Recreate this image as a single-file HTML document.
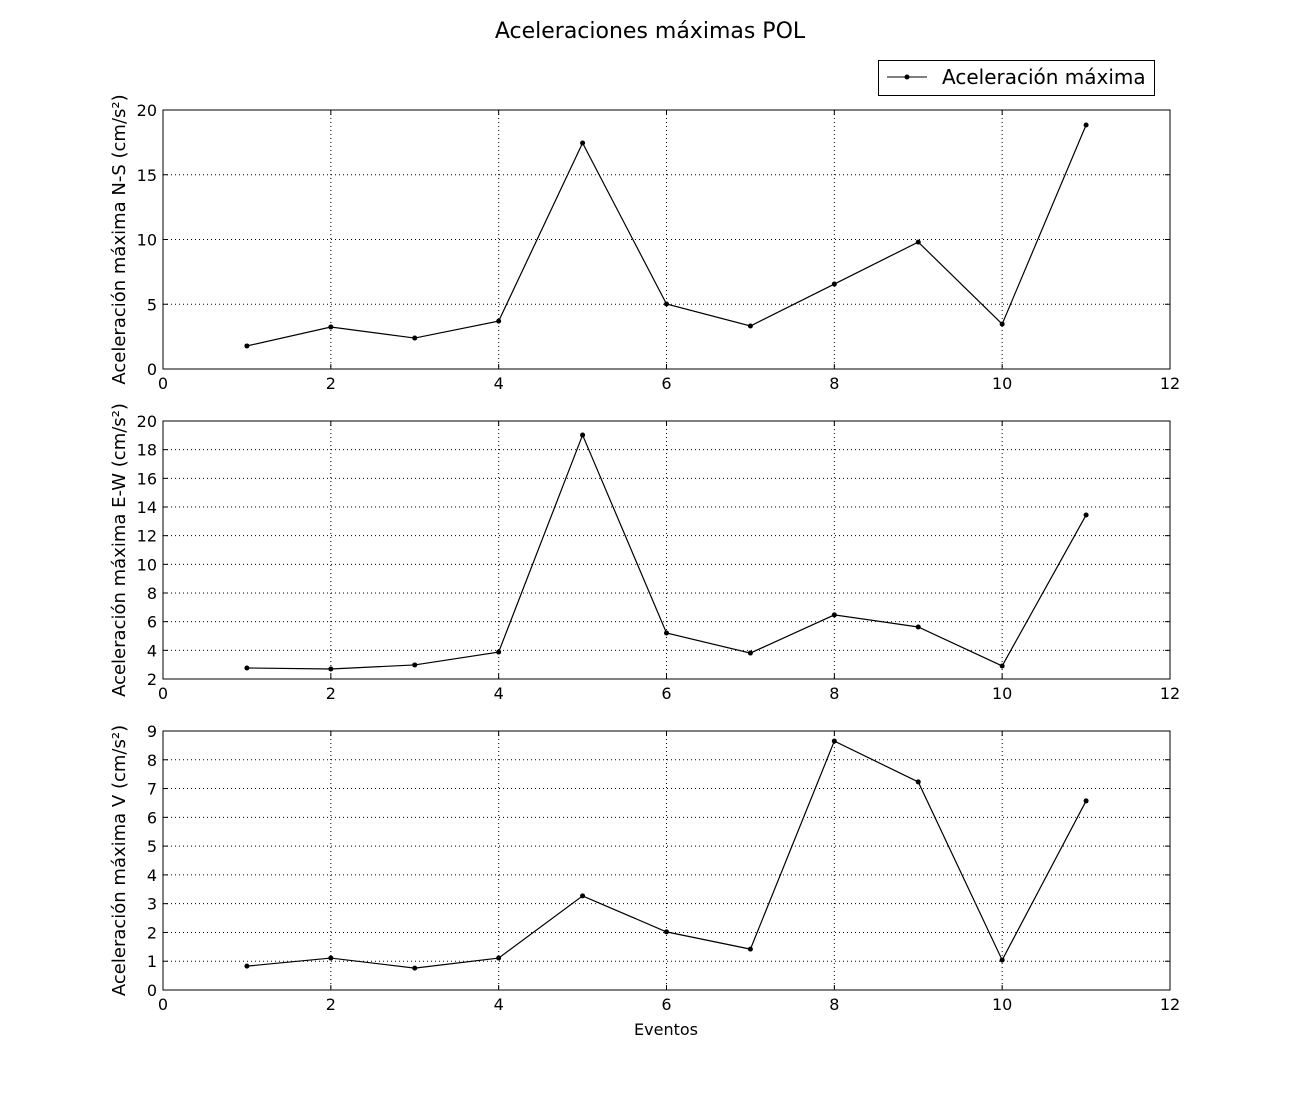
<!DOCTYPE html>
<html><head><meta charset="utf-8"><style>
body{margin:0;background:#fff;}
svg{display:block;font-family:"DejaVu Sans","Liberation Sans",sans-serif;}
</style></head><body>
<svg id="chart" width="1300" height="1100">
<text x="650" y="38" text-anchor="middle" font-size="22">Aceleraciones máximas POL</text>
<g>
<rect x="878.5" y="60.5" width="276" height="35" fill="#fff" stroke="#000"/>
<line x1="887" y1="77" x2="927" y2="77" stroke="#000"/>
<circle cx="907" cy="77" r="2.5" fill="#000"/>
<text x="942" y="84" font-size="20">Aceleración máxima</text>
</g>
<text x="666" y="1035" text-anchor="middle" font-size="16">Eventos</text>
</svg>
<script>
const events = [1,2,3,4,5,6,7,8,9,10,11];
const valuesNS = [1.78,3.24,2.39,3.7,17.45,5.02,3.32,6.56,9.8,3.47,18.84];
const valuesEW = [2.77,2.7,2.98,3.88,19.02,5.21,3.81,6.47,5.63,2.91,13.44];
const valuesV = [0.83,1.11,0.76,1.11,3.27,2.02,1.42,8.65,7.23,1.04,6.57];
const xTicks = [0,2,4,6,8,10,12];
const ticksNS = [0,5,10,15,20];
const ticksEW = [2,4,6,8,10,12,14,16,18,20];
const ticksV = [0,1,2,3,4,5,6,7,8,9];
const NS='http://www.w3.org/2000/svg';
const svg=document.getElementById('chart');
function mk(tag,attrs,parent){const e=document.createElementNS(NS,tag);for(const k in attrs)e.setAttribute(k,attrs[k]);(parent||svg).appendChild(e);return e;}
const X0=163,X1=1170;
const xs=v=>X0+(v-0)/12*(X1-X0);
function panel(name,top,bot,ymin,ymax,ticks,vals,label){
  const g=mk('g',{});
  
  
  const ys=v=>bot-(v-ymin)/(ymax-ymin)*(bot-top);
  xTicks.forEach(t=>{
    const x=xs(t);
    if(t>0&&t<12){const l=mk('line',{x1:x,x2:x,y1:top,y2:bot,stroke:'#000','stroke-dasharray':'1,3','stroke-width':1},g);}
    mk('line',{x1:x,x2:x,y1:bot,y2:bot-5,stroke:'#000'},g);
    mk('line',{x1:x,x2:x,y1:top,y2:top+5,stroke:'#000'},g);
    const tx=mk('text',{x:x,y:bot+20,'text-anchor':'middle','font-size':16},g);tx.textContent=t;
    
    
  });
  ticks.forEach(t=>{
    const y=ys(t);
    if(t>ymin&&t<ymax){const l=mk('line',{x1:X0,x2:X1,y1:y,y2:y,stroke:'#000','stroke-dasharray':'1,3'},g);}
    mk('line',{x1:X0,x2:X0+5,y1:y,y2:y,stroke:'#000'},g);
    mk('line',{x1:X1,x2:X1-5,y1:y,y2:y,stroke:'#000'},g);
    const tx=mk('text',{x:X0-6,y:y+6,'text-anchor':'end','font-size':16},g);tx.textContent=t;
    
    
  });
  const fr=mk('rect',{x:X0,y:top,width:X1-X0,height:bot-top,fill:'none',stroke:'#000'},g);
  
  
  const pts=events.map((e,i)=>xs(e)+','+ys(vals[i])).join(' ');
  const pl=mk('polyline',{points:pts,fill:'none',stroke:'#000','stroke-width':1.2},g);
  
  
  events.forEach((e,i)=>{
    const c=mk('circle',{cx:xs(e),cy:ys(vals[i]),r:2.5,fill:'#000'},g);
    
    
  });
  const cy=(top+bot)/2;
  const lt=mk('text',{x:125,y:cy,'text-anchor':'middle','font-size':18,transform:'rotate(-90 125 '+cy+')'},g);
  lt.textContent=label;
  
  
}
panel('ns',110,369,0,20,ticksNS,valuesNS,'Aceleración máxima N-S (cm/s²)');
panel('ew',421,679,2,20,ticksEW,valuesEW,'Aceleración máxima E-W (cm/s²)');
panel('v',731,990,0,9,ticksV,valuesV,'Aceleración máxima V (cm/s²)');
</script>
</body></html>
